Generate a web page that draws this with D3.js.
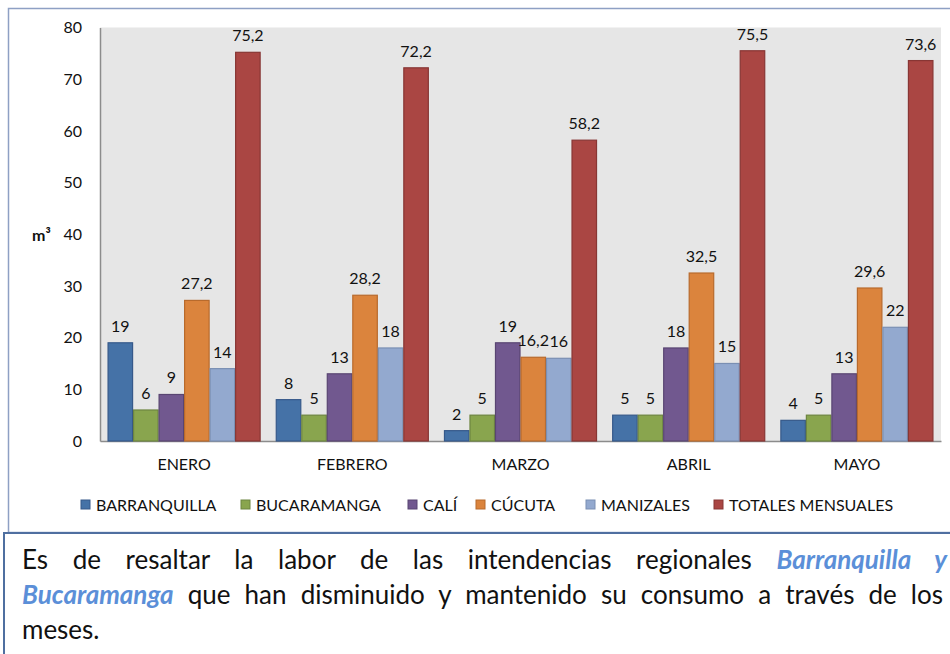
<!DOCTYPE html>
<html><head><meta charset="utf-8">
<script src="https://cdn.jsdelivr.net/npm/d3@7"></script>
<style>
html,body{margin:0;padding:0;background:#fff;width:950px;height:654px;overflow:hidden;}
#wrap{position:relative;width:950px;height:654px;}
svg{position:absolute;left:0;top:0;}
.txt{position:absolute;left:22px;width:925px;font-family:Lato,'Liberation Sans',sans-serif;font-size:26px;line-height:30px;color:#111;text-align:justify;text-align-last:justify;white-space:nowrap;}
.txt.last{text-align-last:left;}
.hl{color:#5b8fd8;font-weight:bold;font-style:italic;}
</style></head>
<body><div id="wrap"></div>
<script>
const months = ["ENERO","FEBRERO","MARZO","ABRIL","MAYO"];
const seriesNames = ["BARRANQUILLA","BUCARAMANGA","CALÍ","CÚCUTA","MANIZALES","TOTALES MENSUALES"];
const barranquilla = [19, 8, 2, 5, 4];
const bucaramanga = [6, 5, 5, 5, 5];
const cali = [9, 13, 19, 18, 13];
const cucuta = [27.2, 28.2, 16.2, 32.5, 29.6];
const manizales = [14, 18, 16, 15, 22];
const totales = [75.2, 72.2, 58.2, 75.5, 73.6];
const yTicks = [0,10,20,30,40,50,60,70,80];
const colors = ["#4572a7","#89a54e","#71588f","#db843d","#93a9cf","#aa4643"];
const strokes = ["#36598a","#6d8540","#594572","#b86a2c","#7a8fb3","#883634"];
const seriesValues = [barranquilla,bucaramanga,cali,cucuta,manizales,totales];

const W=950,H=654;
const svg = d3.select("#wrap").append("svg").attr("width",W).attr("height",H);
const font = "Lato,'Liberation Sans',sans-serif";
const fs = 16;

// frames
svg.append("rect").attr("x",8.5).attr("y",8.5).attr("width",960).attr("height",524)
  .attr("fill","none").attr("stroke","#8ea0c4").attr("stroke-width",1.5);
svg.append("rect").attr("x",4).attr("y",533).attr("width",970).attr("height",140)
  .attr("fill","none").attr("stroke","#4f6fa0").attr("stroke-width",2);

const pL=100,pR=941,pT=27.5,pB=441;
const y = d3.scaleLinear().domain([0,80]).range([pB,pT]);
const x0 = d3.scaleBand().domain(months).range([pL,pR]);
const bw = x0.bandwidth();
const x1 = d3.scaleBand().domain(seriesNames).range([bw*0.045,bw*0.955]);

svg.append("rect").attr("x",pL).attr("y",pT).attr("width",pR-pL).attr("height",pB-pT).attr("fill","#e6e6e6");

const yAxis = d3.axisLeft(y).tickValues(yTicks).tickSize(0).tickPadding(18).tickFormat(d3.format("d"));
const gy = svg.append("g").attr("transform",`translate(${pL},0)`).call(yAxis);
gy.select(".domain").attr("stroke","#8c8c8c").attr("stroke-width",1.5);
gy.selectAll("text").attr("font-family",font).attr("font-size",fs).attr("fill","#111");

const xAxis = d3.axisBottom(x0).tickSize(0).tickPadding(18);
const gx = svg.append("g").attr("transform",`translate(0,${pB})`).call(xAxis);
gx.select(".domain").attr("stroke","#8c8c8c").attr("stroke-width",1.5);
gx.selectAll("text").attr("font-family",font).attr("font-size",fs).attr("fill","#111");

const fmt = v => String(v).replace(".",",");
const data = [];
seriesNames.forEach((s,i)=>months.forEach((m,j)=>data.push({s,i,m,v:seriesValues[i][j]})));

svg.append("g").selectAll("rect").data(data).join("rect")
  .attr("x",d=>x0(d.m)+x1(d.s)+0.5).attr("y",d=>y(d.v)).attr("width",x1.bandwidth()-1).attr("height",d=>pB-y(d.v))
  .attr("fill",d=>colors[d.i]).attr("stroke",d=>strokes[d.i]).attr("stroke-width",1.2);

svg.append("g").selectAll("text").data(data).join("text")
  .attr("x",d=>x0(d.m)+x1(d.s)+x1.bandwidth()/2).attr("y",d=>y(d.v)-11)
  .attr("text-anchor","middle").attr("font-family",font).attr("font-size",fs).attr("fill","#111")
  .text(d=>fmt(d.v));

svg.append("text").attr("x",32).attr("y",241).attr("font-family",font).attr("font-size",fs).attr("font-weight","bold").attr("fill","#111").text("m³");

// legend
const legX = [81,241,408,476,586,714];
const lg = svg.append("g");
seriesNames.forEach((s,i)=>{
  lg.append("rect").attr("x",legX[i]).attr("y",500).attr("width",9).attr("height",9).attr("fill",colors[i]).attr("stroke",strokes[i]);
  lg.append("text").attr("x",legX[i]+15).attr("y",510.5).attr("font-family",font).attr("font-size",fs).attr("fill","#111").text(s);
});

// text box
const wrap = d3.select("#wrap");
wrap.append("div").attr("class","txt").style("top","544px")
  .html('Es de resaltar la labor de las intendencias regionales <span class="hl">Barranquilla y</span>');
wrap.append("div").attr("class","txt").style("top","579px").style("width","921px")
  .html('<span class="hl">Bucaramanga</span> que han disminuido y mantenido su consumo a través de los');
wrap.append("div").attr("class","txt last").style("top","614px")
  .html('meses.');
</script></body></html>
